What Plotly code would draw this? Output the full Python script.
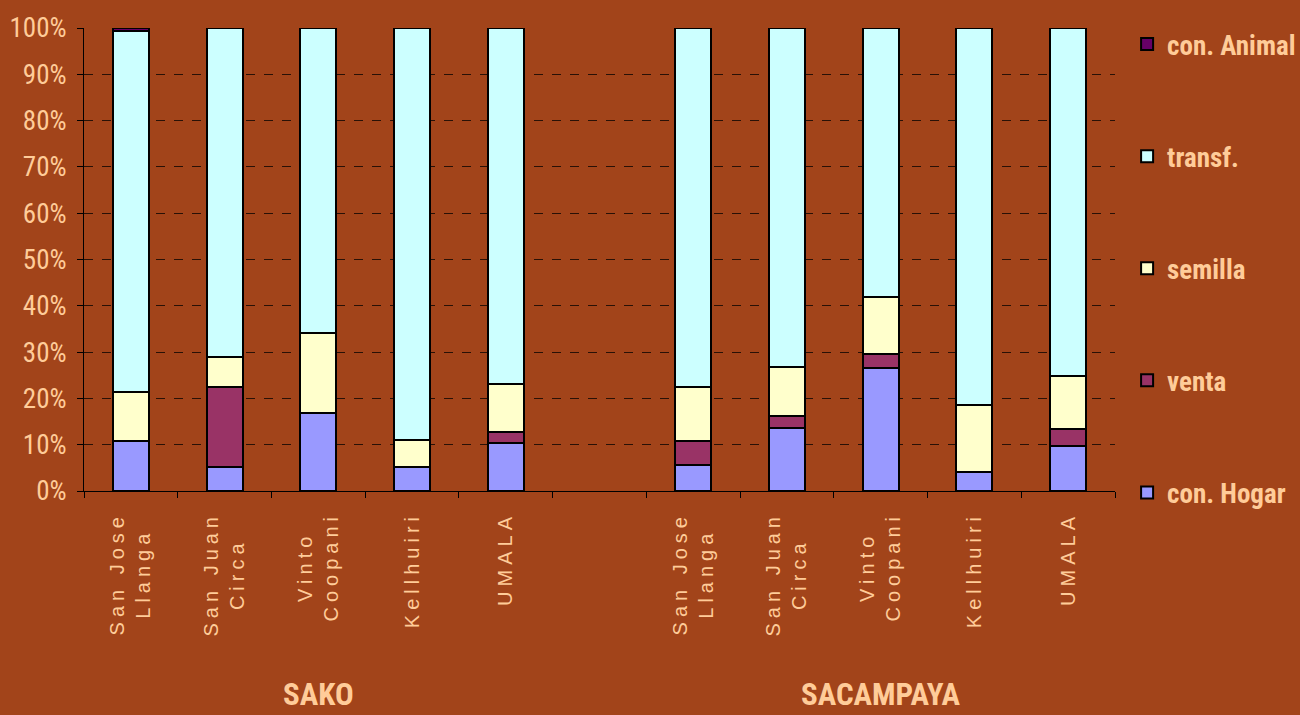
import plotly.graph_objects as go

# ---- data (percent of production by use) ----
cat_ids = [
    "SAKO|San Jose Llanga", "SAKO|San Juan Circa", "SAKO|Vinto Coopani", "SAKO|Kellhuiri", "SAKO|UMALA",
    "GAP",
    "SACAMPAYA|San Jose Llanga", "SACAMPAYA|San Juan Circa", "SACAMPAYA|Vinto Coopani", "SACAMPAYA|Kellhuiri", "SACAMPAYA|UMALA",
]
cat_labels = [
    "San Jose<br>Llanga", "San Juan<br>Circa", "Vinto<br>Coopani", "Kellhuiri", "UMALA",
    "",
    "San Jose<br>Llanga", "San Juan<br>Circa", "Vinto<br>Coopani", "Kellhuiri", "UMALA",
]
bar_ids = [c for c in cat_ids if c != "GAP"]

con_hogar = [10.9, 5.1, 16.8, 5.1, 10.3, 5.6, 13.7, 26.5, 4.0, 9.7]
venta     = [0.0, 17.4, 0.0, 0.0, 2.4, 5.3, 2.5, 3.1, 0.0, 3.6]
semilla   = [10.5, 6.5, 17.4, 5.9, 10.5, 11.6, 10.5, 12.2, 14.6, 11.6]
transf    = [77.9, 71.0, 65.8, 89.0, 76.8, 77.5, 73.3, 58.2, 81.4, 75.1]
con_animal = [0.7, 0.0, 0.0, 0.0, 0.0, 0.0, 0.0, 0.0, 0.0, 0.0]

groups = ["SAKO", "SACAMPAYA"]
group_centers = ["SAKO|Vinto Coopani", "SACAMPAYA|Vinto Coopani"]

series = [
    ("con. Hogar", con_hogar, "#9999FF"),
    ("venta", venta, "#993366"),
    ("semilla", semilla, "#FFFFCC"),
    ("transf.", transf, "#CCFFFF"),
    ("con. Animal", con_animal, "#660066"),
]

PEACH = "#FFCC99"
NARROW = "Liberation Sans Narrow, Arial Narrow, Roboto Condensed, Liberation Sans, Arial, sans-serif"

fig = go.Figure()
n = len(series)
for i, (name, vals, color) in enumerate(series):
    fig.add_trace(go.Bar(
        x=bar_ids, y=vals, name=name, legendgroup=name, legendrank=n - i,
        marker=dict(color=color, line=dict(color="black", width=2)),
    ))

fig.update_layout(
    width=1300, height=715,
    barmode="stack", barnorm="percent", bargap=0.615,
    paper_bgcolor="#A2441A", plot_bgcolor="rgba(0,0,0,0)",
    margin=dict(l=84, r=185, t=28, b=224, autoexpand=False),
    showlegend=True,
    legend=dict(
        xref="container", yref="container",
        x=0.867, y=0.972, xanchor="left", yanchor="top",
        traceorder="grouped", tracegroupgap=74, maxheight=700,
        font=dict(family=NARROW, size=27, color=PEACH, weight="bold"),
        bgcolor="rgba(0,0,0,0)",
    ),
    xaxis=dict(
        type="category", categoryorder="array", categoryarray=cat_ids,
        tickmode="array", tickvals=cat_ids, ticktext=cat_labels,
        tickson="boundaries", ticks="outside", ticklen=6, tickcolor="black",
        tickangle=-90, ticklabelstandoff=12,
        tickfont=dict(family="Liberation Sans, Arial, sans-serif", size=20, color=PEACH),
        showline=True, linecolor="black", linewidth=1, showgrid=False,
        range=[-0.5, 10.5],
    ),
    yaxis=dict(
        range=[0, 100], dtick=10, ticksuffix="%",
        ticks="outside", ticklen=6, tickcolor="black",
        tickfont=dict(family=NARROW, size=27, color=PEACH),
        ticklabelstandoff=5,
        showline=True, linecolor="black", linewidth=1,
        showgrid=True, gridcolor="rgba(0,0,0,0.75)", griddash="dash", gridwidth=1,
        zeroline=False,
    ),
)

for g, c in zip(groups, group_centers):
    fig.add_annotation(
        x=c, xref="x", y=-0.44, yref="paper", text=g, showarrow=False,
        font=dict(family=NARROW, size=31, color=PEACH, weight="bold"),
        yanchor="middle", xanchor="center",
    )

post = """
document.body.style.margin='0';
var gd = document.getElementById('{plot_id}');
gd.querySelectorAll('.xtick text').forEach(function(t){
  t.setAttribute('letter-spacing','5px');
  var sp = t.querySelectorAll('tspan.line');
  if (sp.length > 1) {
    var lens = Array.prototype.map.call(sp, function(s){ return s.getComputedTextLength(); });
    var mx = Math.max.apply(null, lens);
    sp.forEach(function(s, i){
      var x0 = parseFloat(s.getAttribute('x'));
      s.setAttribute('x', x0 - (mx - lens[i]) / 2);
    });
  }
});
"""
fig.write_html("out.html", post_script=post, config={"displayModeBar": False})
